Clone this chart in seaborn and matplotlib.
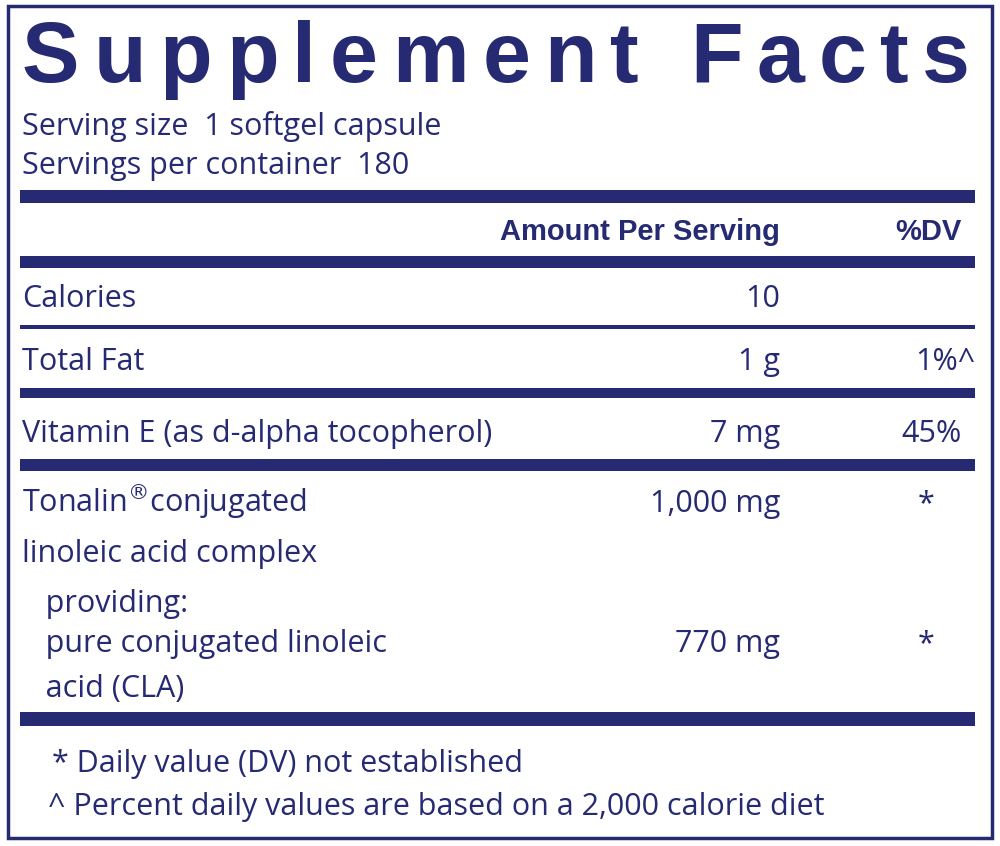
import matplotlib
matplotlib.use("Agg")
import matplotlib.pyplot as plt
import seaborn as sns

sns.set_style("white")
plt.rcParams['font.family'] = ['Open Sans', 'Liberation Sans', 'DejaVu Sans']

NAVY = '#262a72'

title = "Supplement Facts"
serving_lines = ["Serving size  1 softgel capsule", "Servings per container  180"]
header = ["Amount Per Serving", "%DV"]
nutrients = ["Calories", "Total Fat", "Vitamin E (as d-alpha tocopherol)"]
amounts = ["10", "1 g", "7 mg"]
dvs = ["", "1%^", "45%"]
cla_lines = ["Tonalin$^{\\circledR}$conjugated", "linoleic acid complex",
             "   providing:", "   pure conjugated linoleic", "   acid (CLA)"]
cla_amounts = ["1,000 mg", "", "", "770 mg", ""]
cla_dvs = ["*", "", "", "*", ""]
footnotes = ["* Daily value (DV) not established",
             "^ Percent daily values are based on a 2,000 calorie diet"]

fig = plt.figure(figsize=(10, 8.46), dpi=100)
ax = fig.add_axes([0, 0, 1, 1])
ax.set_xlim(0, 1000)
ax.set_ylim(846, 0)
ax.axis('off')

# border
ax.add_patch(plt.Rectangle((8, 6), 984, 832, fill=False, ec=NAVY, lw=2.5))

# title with wide letter spacing
fig.canvas.draw()
r = fig.canvas.get_renderer()
arts = [ax.text(0, 82, ch, fontsize=62, fontweight='black', color=NAVY,
                family=['Liberation Sans', 'DejaVu Sans']) for ch in title]
widths = [a.get_window_extent(r).width for a in arts]
gap = (970 - 22 - sum(widths)) / (len(title) - 1)
x = 22
for a, w in zip(arts, widths):
    a.set_x(x)
    x += w + gap

fs = 22
for i, s in enumerate(serving_lines):
    ax.text(22, 135 + 39 * i, s, fontsize=fs, color=NAVY)

# rules: (y_top, thickness)
for y0, h in [(190, 13), (256, 12), (325, 4), (388, 10), (459, 12), (712, 14)]:
    ax.add_patch(plt.Rectangle((20, y0), 955, h, color=NAVY, lw=0))

ax.text(780, 240, header[0], fontsize=21, fontweight='bold', color=NAVY, ha='right',
        family=['Liberation Sans Narrow', 'Liberation Sans'])
ax.text(962, 240, header[1], fontsize=21, fontweight='bold', color=NAVY, ha='right',
        family=['Liberation Sans Narrow', 'Liberation Sans'])

row_y = [307, 370, 442]
for y, n, a, d in zip(row_y, nutrients, amounts, dvs):
    ax.text(22, y, n, fontsize=fs, color=NAVY)
    ax.text(780, y, a, fontsize=fs, color=NAVY, ha='right')
    ax.text(975 if d.endswith('^') else 962, y, d, fontsize=fs, color=NAVY, ha='right')

cla_y = [512, 562, 612, 652, 697]
for y, n, a, d in zip(cla_y, cla_lines, cla_amounts, cla_dvs):
    ax.text(22, y, n, fontsize=fs, color=NAVY)
    ax.text(780, y, a, fontsize=fs, color=NAVY, ha='right')
    ax.text(926, y, d, fontsize=fs, color=NAVY, ha='center')

ax.text(52, 772, footnotes[0], fontsize=fs, color=NAVY)
ax.text(48, 815, footnotes[1], fontsize=fs, color=NAVY)

fig.savefig('out.png', dpi=100)
